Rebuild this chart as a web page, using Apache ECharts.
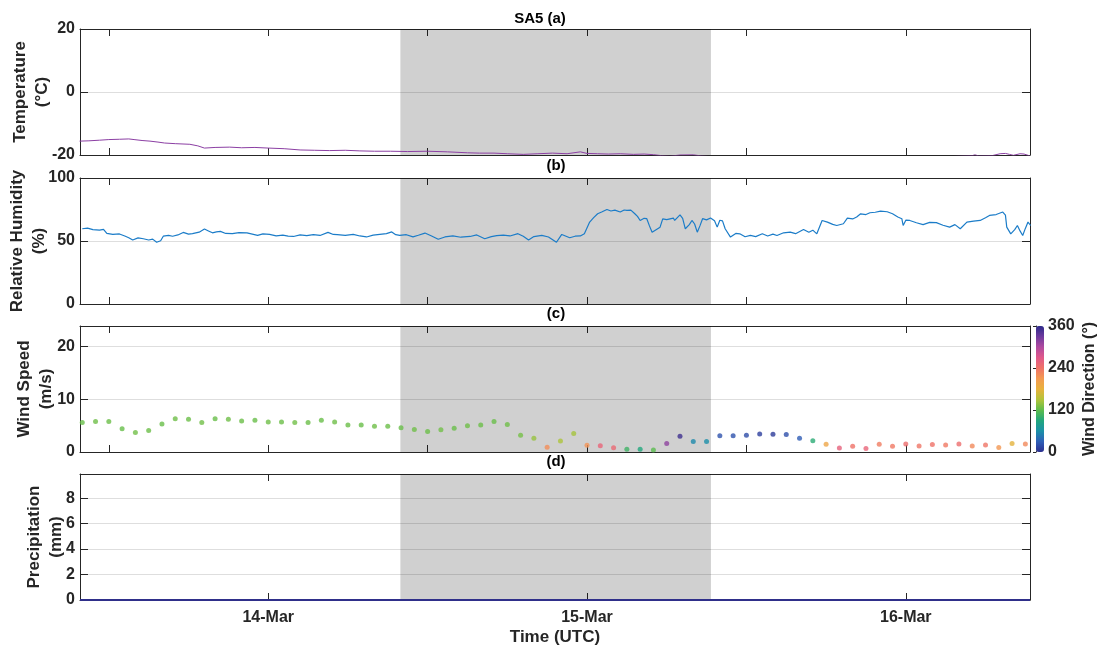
<!DOCTYPE html>
<html>
<head>
<meta charset="utf-8">
<script src="https://cdn.jsdelivr.net/npm/echarts@6/dist/echarts.min.js"></script>
<style>
html, body { margin: 0; padding: 0; background: #fff; }
#main { width: 1097px; height: 645px; }
</style>
</head>
<body>
<div id="main"></div>
<script>
// hours since 13-Mar 00:00 UTC
var xMin = 9.83, xMax = 81.35;
var halfDayTicks = [12, 24, 36, 48, 60, 72];
var dayTicks = [24, 48, 72];
var dayLabels = ['14-Mar', '15-Mar', '16-Mar'];
var nightStart = 33.95, nightEnd = 57.33;

var tempTicks = [-20, 0, 20];
var rhTicks = [0, 50, 100];
var windTicks = [0, 10, 20];
var precipTicks = [0, 2, 4, 6, 8];
var dirTicks = [0, 120, 240, 360];

var tempHours = [9.8, 10.5, 11.3, 12.0, 12.8, 13.5, 13.9, 14.5, 15.1, 15.7, 16.2, 17.0, 18.1, 18.7, 19.2, 20.0, 21.1, 22.0, 23.0, 24.0,
  25.2, 26.4, 27.5, 28.6, 29.8, 30.9, 32.0, 33.2, 34.5, 36.0, 37.5, 39.0, 39.9, 41.0, 42.0, 43.2, 44.3, 45.4, 46.5, 47.5,
  48.0, 48.8, 49.6, 50.5, 51.5, 52.3, 53.0, 53.6, 54.2, 55.0, 56.0, 56.6, 57.5, 60, 64, 68, 72, 75, 77.0, 77.2,
  77.5, 78.5, 79.1, 79.5, 79.8, 80.1, 80.6, 80.9, 81.35];
var tempValues = [-15.6, -15.5, -15.3, -15.1, -15.0, -14.9, -15.1, -15.4, -15.6, -15.9, -16.2, -16.4, -16.6, -17.1, -17.8, -17.6, -17.5, -17.7, -17.6, -17.8,
  -18.0, -18.4, -18.5, -18.6, -18.5, -18.7, -18.8, -18.8, -18.9, -18.8, -19.0, -19.3, -19.4, -19.4, -19.6, -19.8, -19.6, -19.4, -19.6, -19.0,
  -19.5, -19.6, -19.7, -19.6, -19.8, -19.7, -19.9, -20.2, -20.4, -20.0, -19.95, -20.3, -20.6, -20.9, -21.2, -21.0, -20.8, -20.6, -20.2, -19.95,
  -20.3, -20.2, -19.6, -19.5, -19.8, -20.1, -19.6, -19.7, -20.3];

var rhHours = [10.0, 10.4, 10.8, 11.3, 11.6, 11.85, 12.3, 12.8, 13.2, 13.5, 13.8, 14.2, 14.6, 15.0, 15.3, 15.6, 15.9, 16.1, 16.5, 16.8,
  17.2, 17.6, 18.0, 18.3, 18.8, 19.2, 19.5, 19.8, 20.1, 20.4, 20.8, 21.3, 21.8, 22.4, 22.8, 23.2, 23.6, 24.1, 24.6, 25.1,
  25.5, 25.9, 26.4, 26.9, 27.4, 27.9, 28.5, 28.9, 29.2, 29.8, 30.4, 30.9, 31.4, 31.9, 32.4, 32.9, 33.3, 33.6, 33.9, 34.4,
  34.9, 35.3, 35.8, 36.3, 36.8, 37.3, 37.9, 38.5, 39.2, 39.7, 40.3, 40.8, 41.2, 41.7, 42.2, 42.8, 43.2, 43.6, 44.0, 44.6,
  45.1, 45.7, 46.1, 46.7, 47.1, 47.5, 47.8, 48.2, 48.5, 48.8, 49.1, 49.5, 49.8, 50.1, 50.5, 50.8, 51.0, 51.3, 51.6, 51.8,
  52.0, 52.3, 52.5, 52.7, 52.9, 53.2, 53.5, 53.7, 54.0, 54.5, 54.6, 55.0, 55.2, 55.4, 55.7, 55.9, 56.1, 56.3, 56.5, 56.7,
  57.0, 57.3, 57.6, 57.8, 58.0, 58.2, 58.4, 58.8, 59.2, 59.5, 59.9, 60.3, 60.7, 61.2, 61.6, 62.0, 62.3, 62.8, 63.3, 63.7,
  64.3, 64.7, 65.0, 65.3, 65.7, 66.1, 66.5, 66.8, 67.3, 67.6, 68.0, 68.3, 68.6, 69.0, 69.3, 69.7, 70.1, 70.6, 71.0, 71.4,
  71.7, 71.8, 72.0, 72.3, 72.8, 73.3, 73.8, 74.3, 74.8, 75.3, 75.7, 76.1, 76.6, 77.1, 77.6, 78.0, 78.3, 78.8, 79.3, 79.5,
  79.6, 79.9, 80.2, 80.4, 80.6, 80.8, 81.0, 81.2, 81.4];
var rhValues = [59.7, 60.2, 59.0, 58.6, 59.2, 56.0, 55.2, 55.6, 54.0, 52.6, 50.8, 52.5, 51.8, 50.8, 51.5, 49.0, 50.2, 53.8, 54.5, 53.8,
  54.8, 56.8, 55.5, 55.8, 57.0, 59.5, 58.0, 56.5, 57.2, 57.6, 56.0, 55.8, 56.6, 56.4, 55.5, 54.5, 55.6, 55.2, 54.0, 54.6,
  53.8, 53.6, 54.8, 54.2, 55.0, 54.4, 56.8, 55.2, 55.0, 54.5, 55.3, 54.0, 53.2, 54.6, 55.2, 55.8, 57.2, 55.0, 54.4, 55.0,
  53.3, 54.6, 56.3, 54.0, 51.4, 53.2, 54.0, 53.0, 53.6, 54.8, 51.8, 53.5, 54.2, 54.6, 54.0, 55.8, 53.8, 50.8, 53.5, 54.4,
  53.2, 49.0, 55.2, 52.6, 53.8, 54.0, 55.8, 65.0, 68.5, 71.6, 73.0, 75.0, 73.8, 74.5, 73.0, 74.6, 74.3, 74.5, 71.6, 69.5,
  66.3, 68.0, 67.7, 62.0, 57.0, 59.0, 61.0, 67.6, 67.0, 68.2, 66.3, 70.8, 68.0, 59.7, 63.0, 66.3, 63.5, 57.0, 62.0, 67.7,
  66.8, 68.2, 66.0, 61.0, 66.5, 66.0, 59.7, 53.1, 56.0, 55.7, 53.4, 54.4, 53.5, 55.7, 54.0, 55.5, 54.4, 56.5, 57.0, 55.8,
  59.2, 57.0, 58.6, 55.7, 66.3, 65.0, 63.2, 62.3, 63.7, 68.2, 67.5, 69.0, 71.6, 71.0, 72.4, 72.8, 73.7, 73.2, 71.6, 69.0,
  67.7, 62.3, 66.5, 66.3, 64.5, 63.0, 64.8, 64.6, 62.5, 61.0, 63.0, 59.7, 65.0, 65.8, 66.3, 68.5, 70.3, 71.0, 73.0, 70.5,
  61.0, 55.7, 59.0, 62.3, 58.0, 54.4, 60.0, 65.0, 62.3];

var windHours = [10, 11, 12, 13, 14, 15, 16, 17, 18, 19, 20, 21, 22, 23, 24, 25, 26, 27, 28, 29, 30, 31, 32, 33,
  34, 35, 36, 37, 38, 39, 40, 41, 42, 43, 44, 45, 46, 47, 48, 49, 50, 51, 52, 53, 54, 55, 56, 57,
  58, 59, 60, 61, 62, 63, 64, 65, 66, 67, 68, 69, 70, 71, 72, 73, 74, 75, 76, 77, 78, 79, 80, 81];
var windSpeed = [5.6, 5.8, 5.8, 4.4, 3.7, 4.1, 5.3, 6.3, 6.2, 5.6, 6.3, 6.2, 5.9, 6.0, 5.7, 5.7, 5.6, 5.6, 6.0, 5.7, 5.1, 5.1, 4.9, 4.9,
  4.6, 4.25, 3.9, 4.2, 4.5, 5.0, 5.1, 5.8, 5.2, 3.2, 2.6, 0.9, 2.1, 3.5, 1.3, 1.2, 0.8, 0.5, 0.5, 0.4, 1.6, 3.0, 2.0, 2.0,
  3.1, 3.1, 3.2, 3.4, 3.35, 3.3, 2.6, 2.15, 1.45, 0.75, 1.1, 0.65, 1.45, 1.1, 1.5, 1.15, 1.4, 1.35, 1.5, 1.15, 1.35, 0.85, 1.6, 1.5];
var windDir = [124, 126, 125, 123, 127, 125, 124, 126, 125, 127, 124, 126, 125, 124, 126, 125, 127, 125, 124, 126, 125, 124, 126, 125,
  124, 126, 125, 127, 124, 126, 125, 124, 126, 128, 140, 220, 148, 145, 215, 255, 250, 105, 90, 118, 315, 352, 55, 58,
  22, 22, 18, 10, 8, 20, 28, 95, 195, 258, 240, 255, 232, 235, 245, 238, 240, 235, 245, 222, 238, 212, 178, 222];

var precipHours = [9.83, 24, 48, 72, 81.35];
var precipValues = [0, 0, 0, 0, 0];

var dirColors = ['#2c2f8f', '#2f5fb8', '#1b91a8', '#22a77d', '#5ebd4c', '#b3c43a', '#e8b23d',
  '#f39a52', '#ef7268', '#e0588a', '#b04aa0', '#6e3b9e', '#2d2a8a'];

var font = 'Liberation Sans, Arial, Helvetica, sans-serif';
var axisColor = '#262626';
var gridTops = [29, 178, 326, 474];

function pairs(hs, vs) {
  return hs.map(function (h, i) { return [h, vs[i]]; });
}

function xAxisFor(gi, pos, ticks, withLabels) {
  return {
    type: 'value', gridIndex: gi, position: pos, min: xMin, max: xMax,
    axisLine: { show: true, onZero: false, lineStyle: { color: axisColor, width: 1 } },
    axisTick: { show: true, inside: true, length: 7, customValues: ticks, lineStyle: { color: axisColor } },
    axisLabel: {
      show: withLabels, customValues: dayTicks, margin: 10,
      fontFamily: font, fontWeight: 'bold', fontSize: 16, color: axisColor,
      formatter: function (v) { return dayLabels[dayTicks.indexOf(v)] || ''; }
    },
    splitLine: { show: false },
    name: withLabels ? 'Time (UTC)' : '',
    nameLocation: 'middle', nameGap: 29, nameMoveOverlap: false,
    nameTextStyle: { fontFamily: font, fontWeight: 'bold', fontSize: 17, color: axisColor }
  };
}

function yAxisFor(gi, pos, min, max, interval, ticks, name, nameGap) {
  var left = pos === 'left';
  return {
    type: 'value', gridIndex: gi, position: pos, min: min, max: max, interval: interval,
    axisLine: { show: true, onZero: false, lineStyle: { color: axisColor, width: 1 } },
    axisTick: { show: true, inside: true, length: 8, customValues: ticks, lineStyle: { color: axisColor } },
    axisLabel: {
      show: left, customValues: ticks, margin: 5,
      fontFamily: font, fontWeight: 'bold', fontSize: 16, color: axisColor
    },
    splitLine: { show: left, lineStyle: { color: '#dedede', width: 1 } },
    name: left ? name : '',
    nameLocation: 'middle', nameRotate: 90, nameGap: nameGap, nameMoveOverlap: false,
    nameTextStyle: { fontFamily: font, fontWeight: 'bold', fontSize: 17, color: axisColor, lineHeight: 22 }
  };
}

var grids = gridTops.map(function (t) {
  return { left: 80, top: t, width: 950, height: 126, containLabel: false, outerBoundsMode: 'none' };
});
grids.push({ left: 1036, top: 326, width: 8, height: 126, containLabel: false, outerBoundsMode: 'none' });

var xAxes = [], yAxes = [];
var yConf = [
  [-20, 20, 20, tempTicks, 'Temperature\n(°C)', 27],
  [0, 100, 50, rhTicks, 'Relative Humidity\n(%)', 30],
  [0, 23.9, 10, windTicks, 'Wind Speed\n(m/s)', 23],
  [0, 9.9, 2, precipTicks, 'Precipitation\n(mm)', 13]
];
for (var g = 0; g < 4; g++) {
  var last = g === 3;
  xAxes.push(xAxisFor(g, 'bottom', last ? dayTicks : halfDayTicks, last));
  xAxes.push(xAxisFor(g, 'top', last ? dayTicks : halfDayTicks, false));
  var c = yConf[g];
  yAxes.push(yAxisFor(g, 'left', c[0], c[1], c[2], c[3], c[4], c[5]));
  yAxes.push(yAxisFor(g, 'right', c[0], c[1], c[2], c[3], '', 0));
}
xAxes.push({ type: 'value', gridIndex: 4, min: 0, max: 1, show: false });
yAxes.push({
  type: 'value', gridIndex: 4, position: 'right', min: 0, max: 360, interval: 120,
  axisLine: { show: true, lineStyle: { color: axisColor, width: 1 } },
  axisTick: { show: true, inside: true, length: 3, lineStyle: { color: axisColor } },
  axisLabel: { margin: 4, fontFamily: font, fontWeight: 'bold', fontSize: 16, color: axisColor },
  splitLine: { show: false },
  name: 'Wind Direction (°)', nameLocation: 'middle', nameRotate: 90, nameGap: 38, nameMoveOverlap: false,
  nameTextStyle: { fontFamily: font, fontWeight: 'bold', fontSize: 16, color: axisColor }
});

var series = [];
for (var k = 0; k < 4; k++) {
  series.push({
    type: 'line', xAxisIndex: 2 * k, yAxisIndex: 2 * k, data: [], z: 1, silent: true,
    markArea: {
      silent: true, itemStyle: { color: 'rgba(0,0,0,0.185)' },
      data: [[{ xAxis: nightStart }, { xAxis: nightEnd }]]
    }
  });
}
series.push({
  name: 'Temperature', type: 'line', xAxisIndex: 0, yAxisIndex: 0, z: 3,
  data: pairs(tempHours, tempValues), showSymbol: false, clip: true,
  lineStyle: { color: '#8b3fa3', width: 1 }
});
series.push({
  name: 'Relative Humidity', type: 'line', xAxisIndex: 2, yAxisIndex: 2, z: 3,
  data: pairs(rhHours, rhValues), showSymbol: false,
  lineStyle: { color: '#1b7cc8', width: 1.2 }
});
series.push({
  name: 'Wind Speed', type: 'scatter', xAxisIndex: 4, yAxisIndex: 4, z: 3,
  symbolSize: 5,
  data: windHours.map(function (h, i) { return [h, windSpeed[i], windDir[i]]; })
});
series.push({
  name: 'Precipitation', type: 'line', xAxisIndex: 6, yAxisIndex: 6, z: 3,
  data: pairs(precipHours, precipValues), showSymbol: false,
  lineStyle: { color: '#2f2f8a', width: 2 }
});

var titleStyle = { font: 'bold 15px ' + font, fill: '#000', align: 'center', verticalAlign: 'middle' };
function titleText(txt, x, y) {
  return { type: 'text', x: x, y: y, style: Object.assign({ text: txt }, titleStyle) };
}

var chart = echarts.init(document.getElementById('main'));
chart.setOption({
  animation: false,
  backgroundColor: '#fff',
  grid: grids,
  xAxis: xAxes,
  yAxis: yAxes,
  visualMap: {
    type: 'continuous', min: 0, max: 360, dimension: 2, seriesIndex: 6,
    left: 1036, top: 326, itemWidth: 8, itemHeight: 126, padding: 0,
    calculable: false, text: null, showLabel: false,
    inRange: { color: dirColors }
  },
  graphic: [
    titleText('SA5 (a)', 540, 19),
    titleText('(b)', 556, 166),
    titleText('(c)', 556, 314),
    titleText('(d)', 556, 462)
  ],
  series: series
});
</script>
</body>
</html>
